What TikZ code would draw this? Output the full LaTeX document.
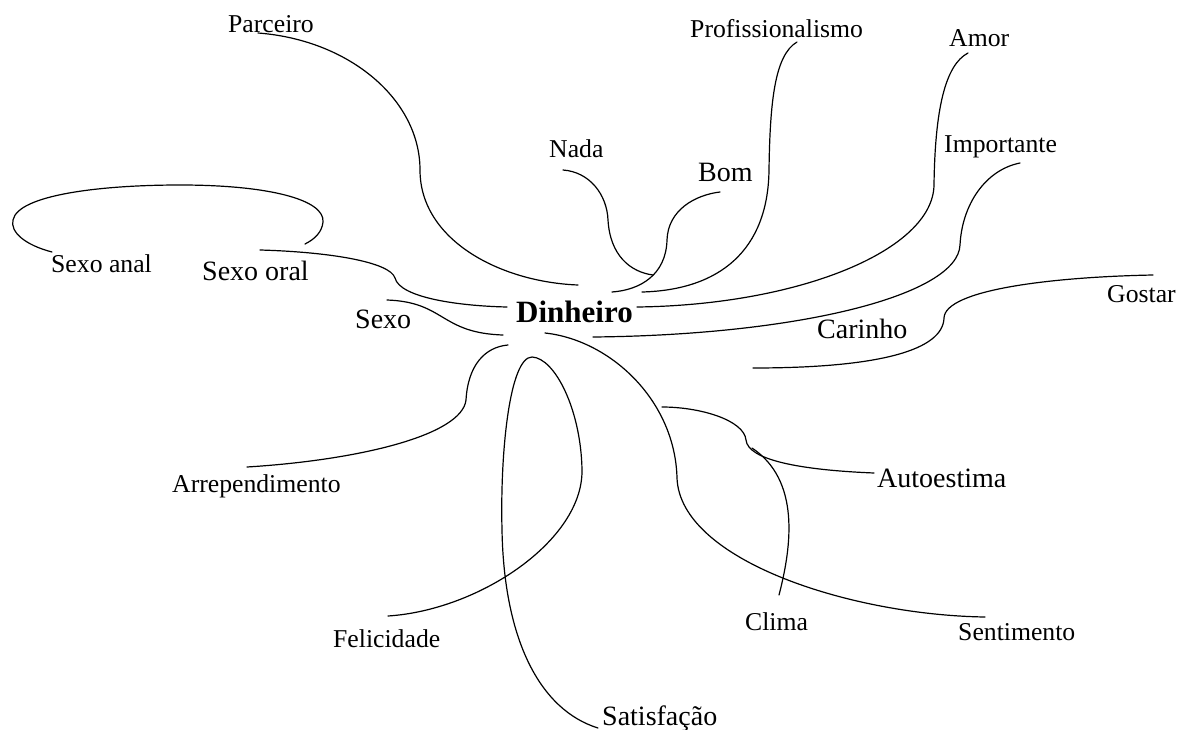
\documentclass[tikz,border=0pt]{standalone}
\usepackage{fontspec}
\setmainfont{Liberation Serif}
\begin{document}
\begin{tikzpicture}[x=1pt,y=-1pt,
  lbl/.style={inner sep=0pt, anchor=base west, font=\fontsize{25.7}{30}\selectfont},
  big/.style={inner sep=0pt, anchor=base west, font=\fontsize{28}{32}\selectfont},
  hub/.style={inner sep=0pt, anchor=base west, font=\fontsize{31}{36}\selectfont\bfseries},
  link/.style={line width=1.2pt, line cap=round}]
\useasboundingbox (0,0) rectangle (1182,730);
% labels
\node[lbl] (parceiro) at (228,33) {Parceiro};
\node[lbl] (prof) at (690,38) {Profissionalismo};
\node[lbl] (amor) at (949,47) {Amor};
\node[lbl] (importante) at (944,153) {Importante};
\node[lbl] (nada) at (549,158) {Nada};
\node[big] (bom) at (698,182) {Bom};
\node[lbl] (anal) at (51,272) {Sexo anal};
\node[big] (oral) at (202,280) {Sexo oral};
\node[big] (sexo) at (355,328) {Sexo};
\node[hub] (din) at (516,322) {Dinheiro};
\node[big] (carinho) at (817,338) {Carinho};
\node[lbl] (gostar) at (1107,302) {Gostar};
\node[big] (auto) at (877,487) {Autoestima};
\node[lbl] (arrep) at (172,492) {Arrependimento};
\node[lbl] (feli) at (333,647) {Felicidade};
\node[big] (satis) at (602,725) {Satisfação};
\node[lbl] (clima) at (745,630) {Clima};
\node[lbl] (senti) at (958,640) {Sentimento};
% connector ends
\coordinate (pA) at (258,33);   \coordinate (pB) at (578,285);
\coordinate (nA) at (563,170);  \coordinate (nB) at (653,275);
\coordinate (bA) at (720,192);  \coordinate (bB) at (612,292);
\coordinate (fA) at (797,42);   \coordinate (fB) at (642,292);
\coordinate (aA) at (968,53);   \coordinate (aB) at (637,307);
\coordinate (iA) at (1020,163); \coordinate (iB) at (593,337);
\coordinate (gA) at (1153,275); \coordinate (gB) at (753,368);
\coordinate (xA) at (52,252);   \coordinate (xB) at (305,244);
\coordinate (oA) at (260,250);  \coordinate (oB) at (507,307);
\coordinate (sA) at (387,300);  \coordinate (sB) at (503,335);
\coordinate (rA) at (247,467);  \coordinate (rB) at (508,345);
\coordinate (lA) at (388,616);  \coordinate (lB) at (598,728);
\coordinate (cA) at (779,595);  \coordinate (cB) at (752,448);
\coordinate (uA) at (874,473);  \coordinate (uB) at (662,407);
\coordinate (tA) at (985,617);  \coordinate (tB) at (545,333);
% connectors
\draw[link] (pA) .. controls (350,40) and (420,100) .. (420,170)
                 .. controls (420,240) and (500,282) .. (pB);
\draw[link] (nA) .. controls (590,172) and (607,195) .. (608,220)
                 .. controls (610,255) and (630,272) .. (nB);
\draw[link] (bA) .. controls (695,195) and (668,210) .. (667,240)
                 .. controls (666,275) and (640,290) .. (bB);
\draw[link] (fA) .. controls (775,55) and (770,100) .. (769,170)
                 .. controls (768,250) and (720,290) .. (fB);
\draw[link] (aA) .. controls (945,65) and (935,110) .. (934,185)
                 .. controls (933,250) and (800,305) .. (aB);
\draw[link] (iA) .. controls (985,170) and (962,205) .. (960,245)
                 .. controls (958,295) and (800,335) .. (iB);
\draw[link] (gA) .. controls (1050,277) and (945,290) .. (944,318)
                 .. controls (943,350) and (880,368) .. (gB);
\draw[link] (xA) .. controls (25,245) and (10,232) .. (13,220)
                 .. controls (18,195) and (100,185) .. (180,185)
                 .. controls (270,185) and (325,200) .. (323,222)
                 .. controls (322,232) and (315,239) .. (xB);
\draw[link] (oA) .. controls (330,252) and (390,262) .. (395,278)
                 .. controls (400,298) and (460,306) .. (oB);
\draw[link] (sA) .. controls (445,302) and (440,333) .. (sB);
\draw[link] (rA) .. controls (360,460) and (462,435) .. (466,400)
                 .. controls (468,365) and (485,347) .. (rB);
\draw[link] (lA) .. controls (480,610) and (583,540) .. (582,470)
                 .. controls (581,410) and (555,358) .. (532,357)
                 .. controls (510,357) and (500,450) .. (502,530)
                 .. controls (504,640) and (540,710) .. (lB);
\draw[link] (cA) .. controls (792,545) and (800,480) .. (cB);
\draw[link] (uA) .. controls (800,470) and (748,460) .. (746,440)
                 .. controls (744,420) and (700,407) .. (uB);
\draw[link] (tB) .. controls (610,340) and (675,400) .. (677,478)
                 .. controls (680,560) and (850,615) .. (tA);
\end{tikzpicture}
\end{document}
